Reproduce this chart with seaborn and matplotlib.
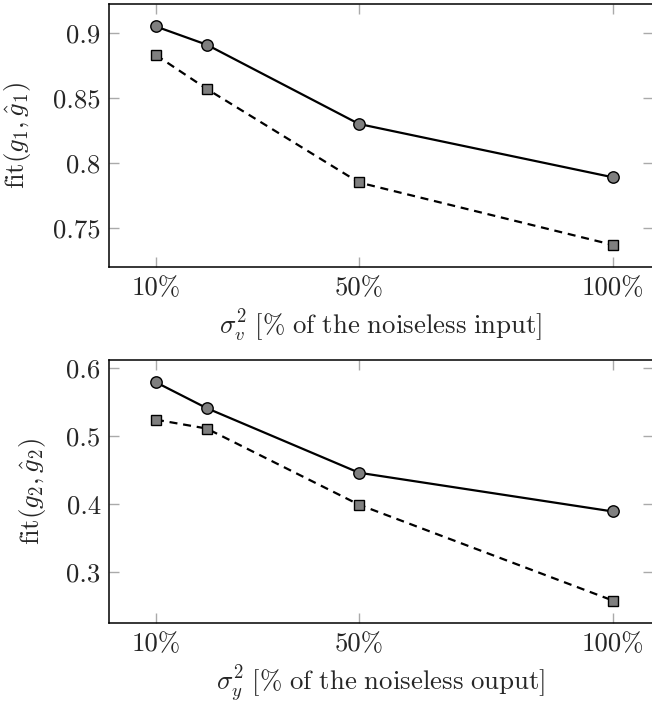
import matplotlib
matplotlib.use("Agg")
import matplotlib.pyplot as plt
import seaborn as sns
import pandas as pd

# Noise level (percent of the noiseless signal)
noise_pct = [10, 20, 50, 100]
tick_pct = [10, 50, 100]
tick_labels = ["10%", "50%", "100%"]

# fit(g1, g1_hat) versus input noise
fit_g1_solid = [0.905, 0.891, 0.830, 0.789]
fit_g1_dashed = [0.883, 0.857, 0.785, 0.737]

# fit(g2, g2_hat) versus output noise
fit_g2_solid = [0.579, 0.541, 0.446, 0.389]
fit_g2_dashed = [0.524, 0.511, 0.399, 0.258]

sns.set_theme(style="white")
plt.rcParams.update({
    "font.family": ["cmr10", "DejaVu Serif"],
    "mathtext.fontset": "cm",
    "axes.formatter.use_mathtext": True,
    "axes.unicode_minus": False,
})

W, H = 652, 706
fig = plt.figure(figsize=(W / 100, H / 100), dpi=100)

def px_axes(left, top, right, bottom):
    return fig.add_axes([left / W, 1 - bottom / H, (right - left) / W, (bottom - top) / H])

ax1 = px_axes(109, 4, 653, 267)
ax2 = px_axes(109, 360, 653, 623)

panels = [
    (ax1, fit_g1_solid, fit_g1_dashed, (0.7200, 0.9223), [0.75, 0.8, 0.85, 0.9],
     ["0.75", "0.8", "0.85", "0.9"],
     r"$\mathrm{fit}(g_1,\hat{g}_1)$", r"$\sigma_v^2\ [\%\ \mathrm{of\ the\ noiseless\ input}]$", -0.140),
    (ax2, fit_g2_solid, fit_g2_dashed, (0.2250, 0.6118), [0.3, 0.4, 0.5, 0.6],
     ["0.3", "0.4", "0.5", "0.6"],
     r"$\mathrm{fit}(g_2,\hat{g}_2)$", r"$\sigma_y^2\ [\%\ \mathrm{of\ the\ noiseless\ ouput}]$", -0.112),
]

fs = 19.3
for ax, solid, dashed, ylim, yt, ytl, ylab, xlab, ylx in panels:
    df = pd.DataFrame({"noise": noise_pct, "solid": solid, "dashed": dashed})
    sns.lineplot(data=df, x="noise", y="solid", ax=ax, color="black", lw=1.6,
                 marker="o", markersize=8.2, markerfacecolor="#7f7f7f",
                 markeredgecolor="black", markeredgewidth=1.0)
    sns.lineplot(data=df, x="noise", y="dashed", ax=ax, color="black", lw=1.6,
                 marker="s", markersize=7.8, markerfacecolor="#7f7f7f",
                 markeredgecolor="black", markeredgewidth=1.0,
                 dashes=False, linestyle=(0, (3.6, 2.6)))
    ax.set_xlim(0.75, 107.9)
    ax.set_ylim(*ylim)
    ax.set_xticks(tick_pct)
    ax.set_xticklabels(tick_labels)
    ax.set_yticks(yt)
    ax.set_yticklabels(ytl)
    ax.tick_params(axis="both", which="major", direction="in", length=7.5, width=1.0,
                   color="#aaaaaa", labelsize=fs, top=True, right=True,
                   bottom=True, left=True)
    ax.tick_params(axis="x", pad=7)
    ax.tick_params(axis="y", pad=6)
    for s in ax.spines.values():
        s.set_color("black")
        s.set_linewidth(1.1)
    ax.set_xlabel(xlab, fontsize=fs, labelpad=5)
    ax.set_ylabel(ylab, fontsize=fs)
    ax.yaxis.set_label_coords(ylx, 0.5)
    ax.grid(False)

fig.savefig("out.png", dpi=100)
